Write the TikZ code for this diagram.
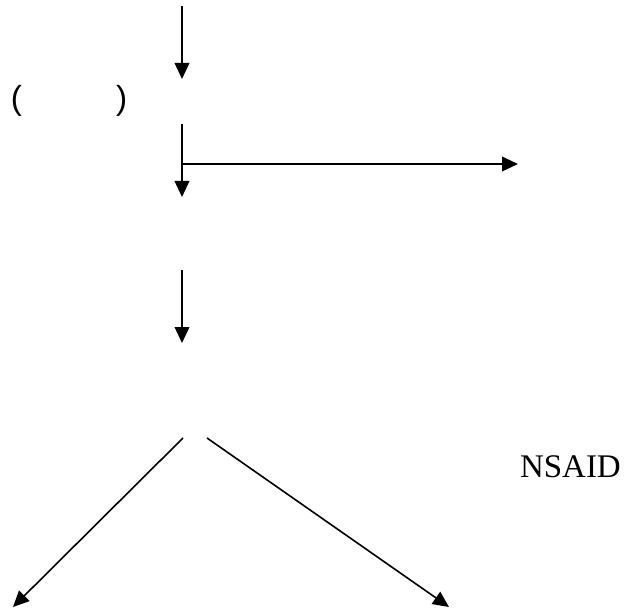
\documentclass[tikz,border=0pt]{standalone}
\usepackage{fontspec}
\setmainfont{Liberation Serif}
\newfontfamily\parfont{Liberation Sans}
\usetikzlibrary{arrows.meta}
\tikzset{
  conn/.style={line width=1.2pt, -{Triangle[length=12pt,width=11pt]}},
  lbl/.style={inner sep=0pt, outer sep=0pt, anchor=base west, font=\fontsize{24.75pt}{28pt}\selectfont},
  parlbl/.style={lbl, font=\parfont\fontsize{25pt}{28pt}\selectfont},
}
\begin{document}
\begin{tikzpicture}[x=0.75pt,y=-0.75pt]
\useasboundingbox (0,0) rectangle (627,609);
\coordinate (a1s) at (182,6);
\coordinate (a1e) at (182,79);
\coordinate (a2s) at (182,124);
\coordinate (a2e) at (182,197);
\coordinate (hs) at (182,164);
\coordinate (he) at (518,164);
\coordinate (a3s) at (182,270);
\coordinate (a3e) at (182,343);
\coordinate (ls) at (183,438);
\coordinate (le) at (13,607);
\coordinate (rs) at (207,438);
\coordinate (re) at (449,607);
\node[parlbl] (lp) at (11,110) {(};
\node[parlbl] (rp) at (116,110) {)};
\node[lbl] (nsaid) at (520,477) {NSAID};
\draw[conn] (a1s) -- (a1e);
\draw[conn] (a2s) -- (a2e);
\draw[conn] (hs) -- (he);
\draw[conn] (a3s) -- (a3e);
\draw[conn] (ls) -- (le);
\draw[conn] (rs) -- (re);
\end{tikzpicture}
\end{document}
